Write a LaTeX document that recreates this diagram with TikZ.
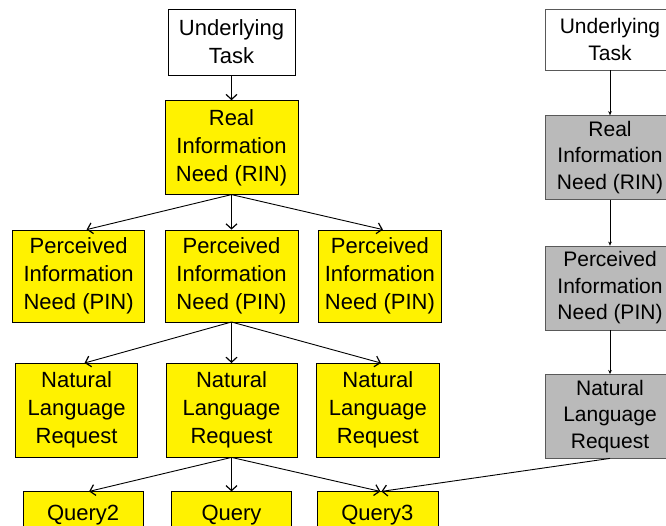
\documentclass[tikz,border=0pt]{standalone}
\usepackage{fontspec}
\setmainfont{Liberation Sans}
\usetikzlibrary{arrows.meta, positioning}

\begin{document}
\begin{tikzpicture}[x=1pt, y=1pt]
      \tikzset{box/.style={draw, align=center, inner sep=1pt, font=\fontsize{22}{28}\selectfont},
        need/.style={box, fill=yellow},
        side/.style={draw=black!65, fill=black!27, align=center, inner sep=1pt, minimum width=130pt, minimum height=84pt, font=\fontsize{21}{26.5}\selectfont},
        every edge/.style={draw, line width=0.9pt, -{Straight Barb[length=5pt, width=11pt, line width=1.2pt]}},
        thin edge/.style={draw, thin, -{Stealth[length=4pt, width=3.5pt]}}}
      \useasboundingbox (0,0) rectangle (666,-525);
      \clip (0,0) rectangle (666,-525);
      % main chain
      \node[box, minimum width=127pt, minimum height=66pt] (task) at (231.5,-42) {Underlying\\Task};
      \node[need, minimum width=133pt, minimum height=94pt, below=25pt of task] (rin) {Real\\Information\\Need (RIN)};
      \node[need, minimum width=133pt, minimum height=92pt, below=35pt of rin] (pin) {Perceived\\Information\\Need (PIN)};
      \node[need, minimum width=132pt, minimum height=92pt, left=20pt of pin] (pinL) {Perceived\\Information\\Need (PIN)};
      \node[need, minimum width=123pt, minimum height=92pt, right=20pt of pin] (pinR) {Perceived\\Information\\Need (PIN)};
      \node[need, minimum width=131pt, minimum height=94pt, below=41pt of pin] (nlr) {Natural\\Language\\Request};
      \node[need, minimum width=122pt, minimum height=94pt, left=28pt of nlr] (nlrL) {Natural\\Language\\Request};
      \node[need, minimum width=123pt, minimum height=94pt, right=19pt of nlr] (nlrR) {Natural\\Language\\Request};
      \node[need, minimum width=120pt, minimum height=46pt, below=34pt of nlr] (query) {Query};
      \node[need, minimum width=120pt, minimum height=46pt, left=28pt of query] (query2) {Query2};
      \node[need, minimum width=121pt, minimum height=46pt, right=25pt of query] (query3) {Query3};
      % grey chain
      \node[draw=black!65, fill=white, align=center, inner sep=1pt, minimum width=130pt, minimum height=61pt, font=\fontsize{21}{26.5}\selectfont] (gtask) at (610,-39.5) {Underlying\\Task};
      \node[side, below=45pt of gtask] (grin) {Real\\Information\\Need (RIN)};
      \node[side, below=46pt of grin] (gpin) {Perceived\\Information\\Need (PIN)};
      \node[side, below=44pt of gpin] (gnlr) {Natural\\Language\\Request};
      \draw (task) edge (rin);
      \draw (rin.south) edge ([xshift=8pt]pinL.north) (rin.south) edge (pin.north) (rin.south) edge ([xshift=3pt]pinR.north);
      \draw (pin.south) edge ([xshift=8pt]nlrL.north) (pin.south) edge (nlr.north) (pin.south) edge ([xshift=3pt]nlrR.north);
      \draw (nlr.south) edge ([xshift=6pt]query2.north) (nlr.south) edge (query.north) (nlr.south) edge ([xshift=3pt]query3.north);
      \draw (gnlr.south) edge ([xshift=4pt]query3.north);
      \draw[thin edge] (gtask) -- (grin);
      \draw[thin edge] (grin) -- (gpin);
      \draw[thin edge] (gpin) -- (gnlr);
    \end{tikzpicture}
\end{document}
